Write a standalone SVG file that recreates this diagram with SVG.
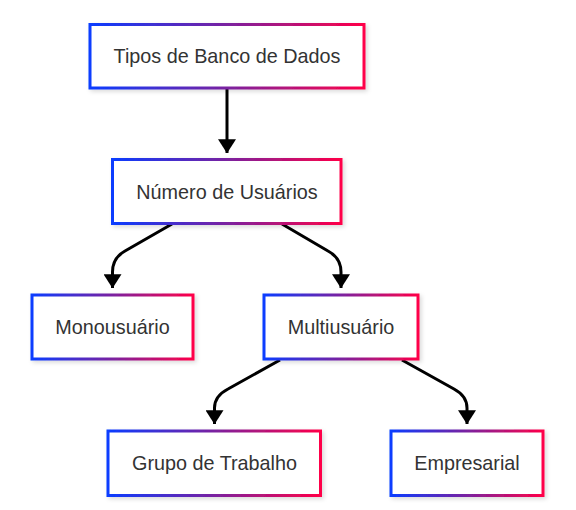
<svg xmlns="http://www.w3.org/2000/svg" width="576" height="510" viewBox="0 0 576 510">
<style>
.box{fill:#ffffff;stroke:url(#g);stroke-width:3;filter:url(#sh)}
.lbl{font-family:"Liberation Sans",Arial,sans-serif;font-size:19.8px;fill:#333333;text-anchor:middle}
.edge{fill:none;stroke:#000000;stroke-width:3;marker-end:url(#arr)}
</style>
<defs>
<linearGradient id="g" x1="0" y1="0" x2="1" y2="0" gradientUnits="objectBoundingBox">
<stop offset="0" stop-color="#0a3cff"/>
<stop offset="0.5" stop-color="#7a22a0"/>
<stop offset="1" stop-color="#ff0048"/>
</linearGradient>
<filter id="sh" x="-10%" y="-20%" width="120%" height="150%">
<feDropShadow dx="2" dy="2" stdDeviation="2" flood-color="#000000" flood-opacity="0.15"/>
</filter>
<marker id="arr" markerWidth="4.7" markerHeight="6" refX="4.6" refY="3" orient="auto" markerUnits="strokeWidth">
<path d="M0,0 L4.7,3 L0,6 Z" fill="#000000"/>
</marker>
</defs>
<g id="edges">
<path class="edge" d="M227,89 L227,153"/>
<path class="edge" d="M172,224 L125,251 Q112.5,258 112.5,272 L112.5,288"/>
<path class="edge" d="M282,224 L328,251 Q341,258 341,272 L341,288"/>
<path class="edge" d="M280,360 L228,389 Q214.5,396 214.5,408 L214.5,424"/>
<path class="edge" d="M402,360 L454,389 Q467,396 467,408 L467,424"/>
</g>
<g id="n1"><rect class="box" x="90" y="24.5" width="274" height="63.5"/><text class="lbl" x="227" y="63">Tipos de Banco de Dados</text></g>
<g id="n2"><rect class="box" x="112.5" y="159.5" width="228.5" height="64"/><text class="lbl" x="227" y="198.5">Número de Usuários</text></g>
<g id="n3"><rect class="box" x="32" y="295" width="161" height="64"/><text class="lbl" x="112.5" y="334">Monousuário</text></g>
<g id="n4"><rect class="box" x="264" y="295" width="154" height="64"/><text class="lbl" x="341" y="334">Multiusuário</text></g>
<g id="n5"><rect class="box" x="108" y="431" width="212.5" height="64.5"/><text class="lbl" x="214.5" y="470">Grupo de Trabalho</text></g>
<g id="n6"><rect class="box" x="391" y="431" width="152" height="64.5"/><text class="lbl" x="467" y="470">Empresarial</text></g>
</svg>
